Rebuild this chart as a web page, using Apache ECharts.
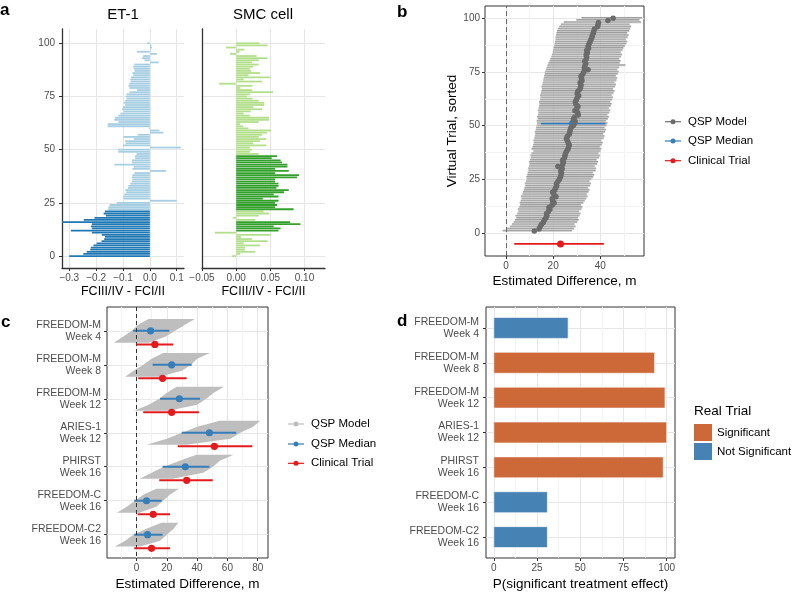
<!DOCTYPE html>
<html>
<head>
<meta charset="utf-8">
<script src="https://cdn.jsdelivr.net/npm/echarts@6/dist/echarts.min.js"></script>
<style>
html, body { margin: 0; padding: 0; background: #fff; }
#chart { width: 800px; height: 597px; }
</style>
</head>
<body>
<div id="chart"></div>
<script>
// ---- panel a: per virtual trial difference (trial 0..100, bottom to top)
var et1Diff = [
  -0.300, -0.248, -0.235, -0.222, -0.220, -0.210, -0.198, -0.180, -0.170, -0.167,
  -0.179, -0.216, -0.294, -0.216, -0.219, -0.216, -0.330, -0.246, -0.206, -0.164,
  -0.172, -0.167, -0.155, -0.154, -0.150, -0.123, 0.100, -0.098, -0.100, -0.095,
  -0.088, -0.092, -0.082, -0.080, -0.073, -0.067, -0.065, -0.067, -0.065, -0.057,
  0.060, -0.065, -0.060, -0.132, -0.067, -0.067, -0.055, -0.055, -0.050, -0.117,
  -0.119, 0.115, -0.100, -0.090, -0.092, -0.060, -0.098, -0.045, 0.050, 0.036,
  -0.003, -0.157, -0.157, -0.117, -0.132, -0.130, -0.117, -0.110, -0.098, -0.104,
  -0.100, -0.092, -0.097, -0.092, -0.087, -0.090, -0.087, -0.076, -0.048, -0.076,
  -0.080, -0.077, -0.072, -0.073, -0.070, -0.062, -0.065, -0.057, -0.060, -0.062,
  -0.058, 0.033, -0.020, -0.030, -0.025, 0.026, -0.048, 0.004, 0.008, 0.006,
  -0.010
];
var et1Highlight = [[0, 21]];
var smcDiff = [
  -0.006, 0.006, 0.028, 0.013, 0.013, 0.035, 0.011, 0.046, 0.023, 0.007,
  0.050, -0.031, 0.062, 0.065, 0.055, 0.094, 0.079, 0.028, -0.005, 0.033,
  0.048, 0.040, 0.084, 0.057, 0.060, 0.057, 0.062, 0.039, 0.062, 0.055,
  0.070, 0.077, 0.059, 0.062, 0.062, 0.057, 0.057, 0.089, 0.092, 0.057,
  0.077, 0.057, 0.075, 0.075, 0.067, 0.065, 0.052, 0.060, 0.033, 0.020,
  0.023, 0.020, 0.044, 0.025, 0.035, 0.044, 0.033, 0.038, 0.045, 0.051,
  0.018, 0.010, 0.006, 0.033, 0.048, 0.048, 0.020, 0.011, 0.021, 0.038,
  0.025, 0.041, 0.041, 0.033, 0.024, 0.016, 0.020, 0.054, 0.023, 0.006,
  0.024, -0.025, 0.038, 0.011, 0.050, 0.018, 0.035, 0.022, 0.020, 0.025,
  0.033, 0.023, 0.033, 0.046, 0.030, -0.009, 0.005, 0.012, -0.015, 0.046,
  0.034
];
var smcHighlight = [[12, 16], [22, 47]];

// ---- panel b: 100 virtual trials, sorted (row 1..100)
var trialMedian = [
  12.0, 14.0, 14.5, 15.0, 15.8, 16.2, 16.8, 17.3, 17.2, 17.9,
  18.6, 18.2, 19.5, 20.4, 19.8, 19.6, 21.2, 20.3, 19.8, 20.6,
  21.0, 21.5, 21.4, 22.0, 22.6, 23.0, 23.3, 23.5, 23.2, 23.8,
  22.0, 24.0, 24.3, 24.0, 24.8, 25.0, 25.2, 25.6, 26.2, 26.5,
  26.8, 26.4, 26.0, 25.6, 26.0, 26.8, 27.0, 27.2, 27.5, 28.5,
  29.0, 29.3, 28.6, 29.0, 30.6, 30.4, 29.2, 30.0, 30.5, 29.6,
  29.4, 29.8, 30.2, 30.8, 30.2, 30.5, 31.3, 31.6, 31.8, 31.4,
  32.2, 32.0, 31.8, 32.5, 33.0, 34.8, 33.2, 33.5, 33.8, 33.4,
  34.0, 34.2, 34.0, 34.5, 34.2, 35.0, 34.8, 35.2, 35.6, 36.0,
  36.4, 36.6, 37.0, 37.2, 37.5, 38.8, 39.0, 39.2, 43.2, 45.4
];
var trialLower = [
  -1.4, 0.5, 1.7, 2.5, 3.2, 3.8, 4.4, 4.0, 4.8, 5.2,
  5.0, 5.6, 6.0, 5.8, 6.2, 6.6, 6.4, 7.0, 7.2, 7.6,
  7.8, 8.2, 8.0, 8.5, 8.8, 8.6, 9.0, 9.2, 9.5, 9.4,
  9.8, 10.0, 9.8, 10.2, 10.5, 10.4, 10.8, 11.6, 10.8, 11.2,
  11.5, 11.8, 11.6, 12.0, 12.2, 12.4, 12.2, 12.6, 12.8, 13.0,
  13.2, 13.0, 13.4, 13.2, 13.6, 13.8, 13.5, 13.8, 14.0, 14.2,
  14.0, 14.4, 14.6, 14.4, 14.8, 15.0, 15.2, 15.0, 15.4, 15.6,
  15.8, 16.0, 16.2, 16.4, 16.6, 17.0, 17.2, 17.6, 18.0, 18.4,
  18.8, 19.2, 19.5, 19.8, 20.0, 20.2, 20.4, 20.6, 20.8, 21.0,
  21.0, 21.2, 21.4, 21.6, 22.0, 22.6, 23.2, 24.5, 29.8, 32.0
];
var trialUpper = [
  28.0, 28.8, 29.5, 29.0, 30.2, 30.8, 30.5, 31.2, 31.6, 31.0,
  32.0, 32.4, 31.8, 32.8, 33.4, 34.0, 34.6, 34.2, 35.0, 35.4,
  34.8, 35.6, 36.0, 35.4, 36.2, 37.0, 37.4, 36.8, 38.0, 38.2,
  37.6, 38.6, 39.0, 38.4, 39.4, 39.8, 39.2, 40.0, 40.4, 39.8,
  40.6, 41.0, 40.4, 41.4, 41.8, 41.2, 42.0, 42.4, 41.8, 42.6,
  43.0, 42.4, 43.2, 43.6, 43.0, 43.8, 44.2, 43.6, 44.4, 44.8,
  44.2, 45.0, 45.4, 44.8, 45.6, 46.0, 45.4, 46.2, 46.6, 46.0,
  46.8, 47.2, 46.6, 47.4, 47.8, 47.2, 48.0, 50.6, 48.2, 48.6,
  48.0, 48.8, 49.2, 48.6, 49.4, 49.8, 50.4, 51.0, 51.4, 50.8,
  51.6, 52.0, 51.4, 52.2, 52.6, 53.0, 52.4, 57.2, 56.6, 57.6
];
var qspMedianB = [14.8, 42.1, 28.2, 51];   // lower, upper, estimate, row
var clinicalB = [3.5, 41.5, 23.1, -5];

// ---- panels c and d: real trials
var trialLabels = ['FREEDOM-M\nWeek 4', 'FREEDOM-M\nWeek 8', 'FREEDOM-M\nWeek 12', 'ARIES-1\nWeek 12',
  'PHIRST\nWeek 16', 'FREEDOM-C\nWeek 16', 'FREEDOM-C2\nWeek 16'];
var envOffsets = [-0.35, -0.175, 0, 0.175, 0.35];   // QSP model spread, top to bottom
var qspEnvLower = [
  [8, 1, -3, -9, -15], [17.5, 10, 4.5, -2, -7.5], [26.5, 20, 15, 8, -1.5], [55, 40, 30, 20, 6.5],
  [39.5, 28.5, 18, 10, 2], [13, 4.5, -1, -6.5, -13], [16.5, 6.5, -2, -7.5, -14.3]
];
var qspEnvUpper = [
  [38.5, 32, 25.5, 19, 8], [48.5, 40, 36, 30, 15], [57.8, 51, 46, 40, 21], [81.7, 77, 68.5, 62, 33],
  [64, 55, 50.5, 44, 24], [28, 22, 17.5, 13, 2], [27.5, 24.5, 20, 15.5, 2.5]
];
var qspMedEst = [9.3, 23.2, 28.3, 48.1, 32.2, 6.6, 7.3];
var qspMedLo = [-2.2, 10.6, 15.5, 29.8, 17.2, -1.5, -1.5];
var qspMedHi = [21.6, 36.4, 41.9, 65.8, 48.1, 16.6, 17.2];
var clinEst = [12.1, 17.2, 23.2, 51.4, 33.1, 11.0, 9.9];
var clinLo = [0, 1.1, 4.4, 27.2, 15.0, 0.7, -1.5];
var clinHi = [24.3, 33.1, 41.3, 76.4, 50.3, 22.1, 22.1];
var pSignificant = [43, 93, 99, 100, 98, 31, 31];
var realTrial = ['Not Significant', 'Significant', 'Significant', 'Significant', 'Significant',
  'Not Significant', 'Not Significant'];

var FONT = '"Liberation Sans", Arial, sans-serif';
var TICK_COL = '#4d4d4d';
var MAJOR = '#e6e6e6', MINOR = '#f3f3f3';
var GRAY_B = '#6b6b6b', GRAY_C = '#bebebe', BLUE = '#377eb8', RED = '#e41a1c';

function inRanges(i, ranges) {
  return ranges.some(function (r) { return i >= r[0] && i <= r[1]; });
}
function barData(values, ranges, want) {
  var out = [];
  values.forEach(function (v, i) { if (inRanges(i, ranges) === want) out.push([v, i]); });
  return out;
}
// horizontal bar from 0 to value, centred on a row
function renderHBar(half, stroke) {
  return function (params, api) {
    var a = api.coord([0, api.value(1) - half]);
    var b = api.coord([api.value(0), api.value(1) + half]);
    return {
      type: 'rect',
      shape: { x: Math.min(a[0], b[0]), y: Math.min(a[1], b[1]), width: Math.abs(b[0] - a[0]), height: Math.abs(b[1] - a[1]) },
      style: { fill: api.visual('color'), stroke: stroke || null, lineWidth: stroke ? 1 : 0 }
    };
  };
}
// interval line + point: [lower, upper, estimate, row]
function renderRange(lw, r) {
  return function (params, api) {
    var y = api.value(3);
    var p1 = api.coord([api.value(0), y]), p2 = api.coord([api.value(1), y]), pm = api.coord([api.value(2), y]);
    var c = api.visual('color');
    return {
      type: 'group', children: [
        { type: 'line', shape: { x1: p1[0], y1: p1[1], x2: p2[0], y2: p2[1] }, style: { stroke: c, lineWidth: lw } },
        { type: 'circle', shape: { cx: pm[0], cy: pm[1], r: r }, style: { fill: c } }
      ]
    };
  };
}
function renderTrial(params, api) {
  var y = api.value(3);
  var p1 = api.coord([api.value(0), y]), p2 = api.coord([api.value(1), y]);
  var h = api.size([0, 0.75])[1];
  return {
    type: 'group', children: [
      { type: 'rect', shape: { x: p1[0], y: p1[1] - h / 2, width: p2[0] - p1[0], height: h }, style: { fill: '#c4c4c4' } },
      { type: 'line', shape: { x1: p1[0], y1: p1[1] - h / 2, x2: p2[0], y2: p2[1] - h / 2 }, style: { stroke: '#6e6e6e', lineWidth: 0.6 } }
    ]
  };
}
function renderEnvelope(params, api) {
  var row = api.value(0), n = envOffsets.length, pts = [], k;
  for (k = 0; k < n; k++) pts.push(api.coord([api.value(1 + k), row + envOffsets[k]]));
  for (k = n - 1; k >= 0; k--) pts.push(api.coord([api.value(1 + n + k), row + envOffsets[k]]));
  return { type: 'polygon', shape: { points: pts }, style: { fill: GRAY_C } };
}

function minus(v, d) { return (v < -1e-9 ? '\u2212' : '') + Math.abs(v).toFixed(d); }

function valueAxis(o) {
  var ax = {
    type: 'value', gridIndex: o.grid, min: o.min, max: o.max, inverse: !!o.inverse,
    axisLine: o.line ? { show: true, onZero: false, lineStyle: { color: '#333', width: 1.3 } } : { show: false, onZero: false },
    axisTick: { show: !!o.ticks, customValues: o.grid_values, length: 3, lineStyle: { color: '#333' } },
    axisLabel: {
      show: o.labels !== null, customValues: o.labels || [], margin: o.margin || 4,
      color: TICK_COL, fontSize: o.fontSize || 10, fontFamily: FONT,
      formatter: o.formatter, lineHeight: 12
    },
    splitLine: { show: true, lineStyle: { color: o.gridColors || [MAJOR], width: 1 } }
  };
  if (o.name) {
    ax.name = o.name;
    ax.nameLocation = 'middle';
    ax.nameGap = o.nameGap;
    ax.nameTextStyle = { color: '#000', fontSize: o.nameSize || 13.5, fontFamily: FONT };
  }
  return ax;
}
// overlay axis that only draws the outward tick marks at the major values
function tickAxis(grid, min, max, values, pos, inverse) {
  return {
    type: 'value', gridIndex: grid, min: min, max: max, inverse: !!inverse, position: pos,
    axisLine: { show: false, onZero: false }, axisLabel: { show: false }, splitLine: { show: false },
    axisTick: { show: true, customValues: values, length: 3, lineStyle: { color: '#333' } }
  };
}

var rowIdx = trialLabels.map(function (d, i) { return i; });

var option = {
  backgroundColor: '#fff',
  animation: false,
  textStyle: { fontFamily: FONT },
  grid: [
    { left: 62, top: 29, width: 122, height: 239, show: false },
    { left: 202, top: 29, width: 123, height: 239, show: false },
    { left: 485, top: 6, width: 159, height: 250, show: true, borderColor: '#333', borderWidth: 1 },
    { left: 107, top: 307, width: 161, height: 251, show: true, borderColor: '#333', borderWidth: 1 },
    { left: 486, top: 307, width: 189, height: 251, show: true, borderColor: '#333', borderWidth: 1 }
  ],
  xAxis: [
    valueAxis({ grid: 0, min: -0.327, max: 0.127, line: true, ticks: true, grid_values: [-0.3, -0.2, -0.1, 0, 0.1],
      labels: [-0.3, -0.2, -0.1, 0, 0.1], formatter: function (v) { return minus(v, 1); },
      name: 'FCIII/IV - FCI/II', nameGap: 14, nameSize: 12.5 }),
    valueAxis({ grid: 1, min: -0.05, max: 0.13, line: true, ticks: true, grid_values: [-0.05, 0, 0.05, 0.1],
      labels: [-0.05, 0, 0.05, 0.1], formatter: function (v) { return minus(v, 2); },
      name: 'FCIII/IV - FCI/II', nameGap: 14, nameSize: 12.5 }),
    valueAxis({ grid: 2, min: -8.9, max: 58.5, grid_values: [0, 10, 20, 30, 40, 50], labels: [0, 20, 40],
      gridColors: [MAJOR, MINOR], name: 'Estimated Difference, m', nameGap: 18 }),
    valueAxis({ grid: 3, min: -19.5, max: 86.8, grid_values: [-10, 0, 10, 20, 30, 40, 50, 60, 70, 80],
      labels: [0, 20, 40, 60, 80], gridColors: [MINOR, MAJOR], name: 'Estimated Difference, m', nameGap: 19 }),
    valueAxis({ grid: 4, min: -4.5, max: 104.8, grid_values: [0, 12.5, 25, 37.5, 50, 62.5, 75, 87.5, 100],
      labels: [0, 25, 50, 75, 100], gridColors: [MAJOR, MINOR], name: 'P(significant treatment effect)', nameGap: 19 }),
    tickAxis(2, -8.9, 58.5, [0, 20, 40], 'bottom'),
    tickAxis(3, -19.5, 86.8, [0, 20, 40, 60, 80], 'bottom'),
    tickAxis(4, -4.5, 104.8, [0, 25, 50, 75, 100], 'bottom')
  ],
  yAxis: [
    valueAxis({ grid: 0, min: -5.6, max: 106.7, line: true, ticks: true, grid_values: [0, 25, 50, 75, 100],
      labels: [0, 25, 50, 75, 100], margin: 7 }),
    valueAxis({ grid: 1, min: -5.6, max: 106.7, line: true, grid_values: [0, 25, 50, 75, 100], labels: null }),
    valueAxis({ grid: 2, min: -10.6, max: 105.7, grid_values: [0, 12.5, 25, 37.5, 50, 62.5, 75, 87.5, 100],
      labels: [0, 25, 50, 75, 100], gridColors: [MAJOR, MINOR], margin: 5,
      name: 'Virtual Trial, sorted', nameGap: 26 }),
    valueAxis({ grid: 3, min: -0.7, max: 6.685, inverse: true, ticks: true, grid_values: rowIdx, labels: rowIdx,
      margin: 6, fontSize: 10.5, formatter: function (v) { return trialLabels[v]; } }),
    valueAxis({ grid: 4, min: -0.6, max: 6.6, inverse: true, ticks: true, grid_values: rowIdx, labels: rowIdx,
      margin: 7, fontSize: 10.5, formatter: function (v) { return trialLabels[v]; } }),
    tickAxis(2, -10.6, 105.7, [0, 25, 50, 75, 100], 'left')
  ],
  legend: {
    data: ['Significant', 'Not Significant'], orient: 'vertical', left: 694, top: 424, padding: 0,
    itemWidth: 18, itemHeight: 17, itemGap: 2, icon: 'rect', selectedMode: false,
    textStyle: { fontSize: 11.5, color: '#000', fontFamily: FONT }
  },
  series: [
    // panel a
    { type: 'custom', name: 'ET-1', xAxisIndex: 0, yAxisIndex: 0, clip: true, itemStyle: { color: '#a6cee3' },
      renderItem: renderHBar(0.42), data: barData(et1Diff, et1Highlight, false) },
    { type: 'custom', name: 'ET-1 sel', xAxisIndex: 0, yAxisIndex: 0, clip: true, itemStyle: { color: '#1f78b4' },
      renderItem: renderHBar(0.42), data: barData(et1Diff, et1Highlight, true) },
    { type: 'custom', name: 'SMC', xAxisIndex: 1, yAxisIndex: 1, clip: true, itemStyle: { color: '#b2df8a' },
      renderItem: renderHBar(0.42), data: barData(smcDiff, smcHighlight, false) },
    { type: 'custom', name: 'SMC sel', xAxisIndex: 1, yAxisIndex: 1, clip: true, itemStyle: { color: '#33a02c' },
      renderItem: renderHBar(0.42), data: barData(smcDiff, smcHighlight, true) },
    // panel b
    { type: 'custom', name: 'QSP Model b', xAxisIndex: 2, yAxisIndex: 2, clip: true,
      renderItem: renderTrial,
      data: trialMedian.map(function (m, i) { return [trialLower[i], trialUpper[i], m, i + 1]; }) },
    { type: 'scatter', name: 'QSP Model pts', xAxisIndex: 2, yAxisIndex: 2, symbolSize: 5.5,
      itemStyle: { color: GRAY_B, opacity: 1 },
      data: trialMedian.map(function (m, i) { return [m, i + 1]; }) },
    { type: 'custom', name: 'QSP Median b', xAxisIndex: 2, yAxisIndex: 2, itemStyle: { color: BLUE },
      renderItem: renderRange(1.8, 3.5), data: [qspMedianB] },
    { type: 'custom', name: 'Clinical b', xAxisIndex: 2, yAxisIndex: 2, itemStyle: { color: RED },
      renderItem: renderRange(1.8, 3.5), data: [clinicalB], z: 5,
      markLine: { silent: true, symbol: 'none', label: { show: false },
        lineStyle: { color: '#666', type: [5, 3], width: 1 }, data: [{ xAxis: 0 }] } },
    // panel c
    { type: 'custom', name: 'QSP Model c', xAxisIndex: 3, yAxisIndex: 3, clip: true,
      renderItem: renderEnvelope,
      data: rowIdx.map(function (i) { return [i].concat(qspEnvLower[i], qspEnvUpper[i]); }) },
    { type: 'custom', name: 'QSP Median c', xAxisIndex: 3, yAxisIndex: 3, itemStyle: { color: BLUE },
      renderItem: renderRange(2, 3.6),
      data: rowIdx.map(function (i) { return [qspMedLo[i], qspMedHi[i], qspMedEst[i], i]; }) },
    { type: 'custom', name: 'Clinical c', xAxisIndex: 3, yAxisIndex: 3, itemStyle: { color: RED }, z: 5,
      renderItem: renderRange(2, 3.6),
      data: rowIdx.map(function (i) { return [clinLo[i], clinHi[i], clinEst[i], i + 0.4]; }),
      markLine: { silent: true, symbol: 'none', label: { show: false },
        lineStyle: { color: '#333', type: [4, 3], width: 1 }, data: [{ xAxis: 0 }] } },
    // panel d
    { type: 'custom', name: 'Significant', xAxisIndex: 4, yAxisIndex: 4,
      itemStyle: { color: '#cd6839', borderColor: '#f3d9cc' },
      renderItem: renderHBar(0.3, 'rgba(255,255,255,0.6)'),
      data: rowIdx.filter(function (i) { return realTrial[i] === 'Significant'; })
        .map(function (i) { return [pSignificant[i], i]; }) },
    { type: 'custom', name: 'Not Significant', xAxisIndex: 4, yAxisIndex: 4,
      itemStyle: { color: '#4682b4', borderColor: '#d3e0ee' },
      renderItem: renderHBar(0.3, 'rgba(255,255,255,0.6)'),
      data: rowIdx.filter(function (i) { return realTrial[i] === 'Not Significant'; })
        .map(function (i) { return [pSignificant[i], i]; }) }
  ]
};

// legends for b and c, panel letters and facet titles
function txt(x, y, s, size, opts) {
  opts = opts || {};
  return { type: 'text', x: x, y: y, silent: true, style: {
    text: s, fill: opts.fill || '#000', fontSize: size, fontFamily: FONT, fontWeight: opts.bold ? 'bold' : 'normal',
    align: opts.align || 'left', verticalAlign: 'middle', textAlign: opts.align || 'left', textVerticalAlign: 'middle' } };
}
function legendItems(x, ys, names, colors) {
  var els = [];
  names.forEach(function (n, i) {
    els.push({ type: 'line', silent: true, shape: { x1: x, y1: ys[i], x2: x + 16, y2: ys[i] }, style: { stroke: colors[i], lineWidth: 1.2 } });
    els.push({ type: 'circle', silent: true, shape: { cx: x + 8, cy: ys[i], r: 2.5 }, style: { fill: colors[i] } });
    els.push(txt(x + 23, ys[i], n, 11.5));
  });
  return els;
}
var legendNames = ['QSP Model', 'QSP Median', 'Clinical Trial'];
option.graphic = [
  txt(0, 10, 'a', 17, { bold: true }),
  txt(397, 12, 'b', 17, { bold: true }),
  txt(1, 322, 'c', 17, { bold: true }),
  txt(397, 321, 'd', 17, { bold: true }),
  txt(123, 15, 'ET-1', 15, { align: 'center' }),
  txt(263, 15, 'SMC cell', 15, { align: 'center' }),
  txt(694, 411, 'Real Trial', 13.5)
].concat(
  legendItems(665, [121.7, 141, 160.7], legendNames, [GRAY_B, BLUE, RED]),
  legendItems(288, [424, 444, 463.3], legendNames, [GRAY_C, BLUE, RED])
);

var chart = echarts.init(document.getElementById('chart'), null, { renderer: 'canvas' });
chart.setOption(option);
</script>
</body>
</html>
